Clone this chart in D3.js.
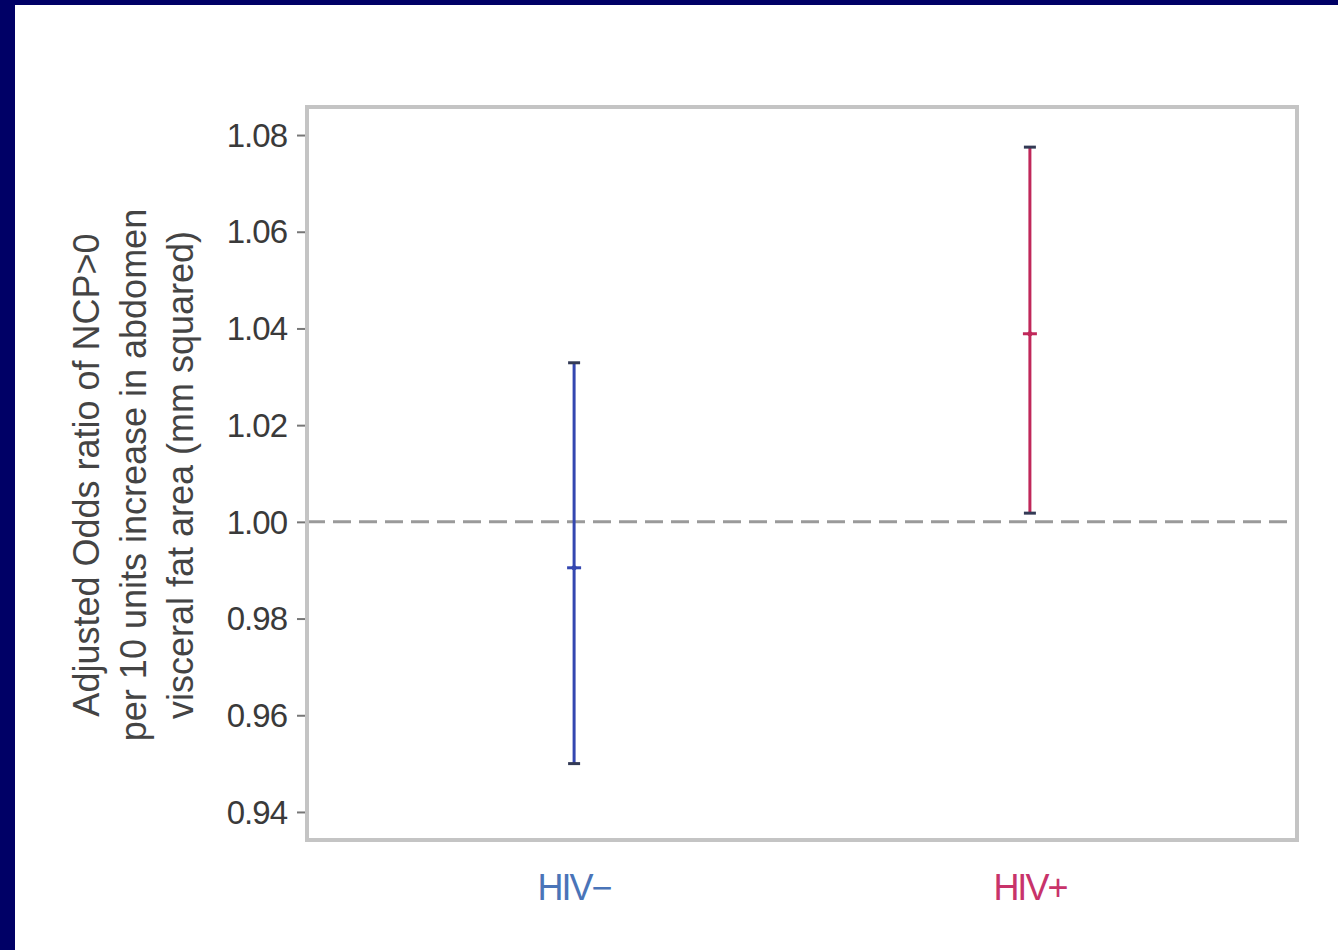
<!DOCTYPE html>
<html><head><meta charset="utf-8">
<script src="https://cdn.jsdelivr.net/npm/d3@7/dist/d3.min.js"></script>
<style>html,body{margin:0;padding:0;background:#000066;}svg{display:block;}</style>
</head><body>
<svg id="c" width="1338" height="950"></svg>
<script>
const groups = ["HIV−", "HIV+"];
const lower = [0.950, 1.0018];
const estimate = [0.9905, 1.0389];
const upper = [1.0329, 1.0775];
const yTicks = [0.94, 0.96, 0.98, 1.00, 1.02, 1.04, 1.06, 1.08];
const colors = ["#3447b0", "#c0285a"];
const labelColors = ["#4a74b8", "#c8336a"];
const yTitle = ["Adjusted Odds ratio of NCP>0", "per 10 units increase in abdomen", "visceral fat area (mm squared)"];

const svg = d3.select("#c");
svg.append("rect").attr("x", 15).attr("y", 5).attr("width", 1323).attr("height", 945).attr("fill", "#ffffff");

const L = 307, R = 1297, T = 107, B = 840;
const y = d3.scaleLinear().domain([0.9342, 1.0858]).range([B, T]);
const x = d3.scalePoint().domain(groups).range([L, R]).padding(0.586);

const font = "'Liberation Sans', Arial, sans-serif";

// y axis
const yAxis = d3.axisLeft(y).tickValues(yTicks).tickFormat(d3.format(".2f")).tickSize(9).tickPadding(10);
const ga = svg.append("g").attr("transform", `translate(${L - 1},0)`).call(yAxis);
ga.select(".domain").remove();
ga.selectAll(".tick line").attr("stroke", "#777").attr("stroke-width", 2);
ga.selectAll(".tick text").attr("font-family", font).attr("font-size", 33).attr("fill", "#3a3a3a")
  .attr("letter-spacing", "-1px").attr("dy", "0.34em");

// reference line
svg.append("line").attr("x1", L).attr("x2", R).attr("y1", y(1)).attr("y2", y(1))
  .attr("stroke", "#9a9a9a").attr("stroke-width", 3).attr("stroke-dasharray", "18,8");

// error bars
const idx = d3.range(groups.length);
const bars = svg.append("g").selectAll("g").data(idx).join("g");
bars.append("line").attr("x1", i => x(groups[i])).attr("x2", i => x(groups[i]))
  .attr("y1", i => y(lower[i])).attr("y2", i => y(upper[i]))
  .attr("stroke", i => colors[i]).attr("stroke-width", 3);
[lower, upper].forEach(arr => {
  bars.append("line").attr("x1", i => x(groups[i]) - 6).attr("x2", i => x(groups[i]) + 6)
    .attr("y1", i => y(arr[i])).attr("y2", i => y(arr[i]))
    .attr("stroke", "#333a55").attr("stroke-width", 3);
});
bars.append("line").attr("x1", i => x(groups[i]) - 7).attr("x2", i => x(groups[i]) + 7)
  .attr("y1", i => y(estimate[i])).attr("y2", i => y(estimate[i]))
  .attr("stroke", i => colors[i]).attr("stroke-width", 3);
bars.append("circle").attr("cx", i => x(groups[i])).attr("cy", i => y(estimate[i])).attr("r", 2.5)
  .attr("fill", i => colors[i]);

// frame
svg.append("rect").attr("x", L).attr("y", T).attr("width", R - L).attr("height", B - T)
  .attr("fill", "none").attr("stroke", "#c4c4c4").attr("stroke-width", 4);

// x labels
svg.append("g").selectAll("text").data(idx).join("text")
  .attr("x", i => x(groups[i])).attr("y", 900).attr("text-anchor", "middle")
  .attr("font-family", font).attr("font-size", 36).attr("letter-spacing", "-2px")
  .attr("fill", i => labelColors[i]).text(i => groups[i]);

// y title
const tg = svg.append("g").attr("transform", "translate(0,475) rotate(-90)");
tg.selectAll("text").data(yTitle).join("text")
  .attr("x", 0).attr("y", (d, i) => 99 + i * 47).attr("text-anchor", "middle")
  .attr("font-family", font).attr("font-size", 36).attr("fill", "#444").text(d => d);
</script>
</body></html>
